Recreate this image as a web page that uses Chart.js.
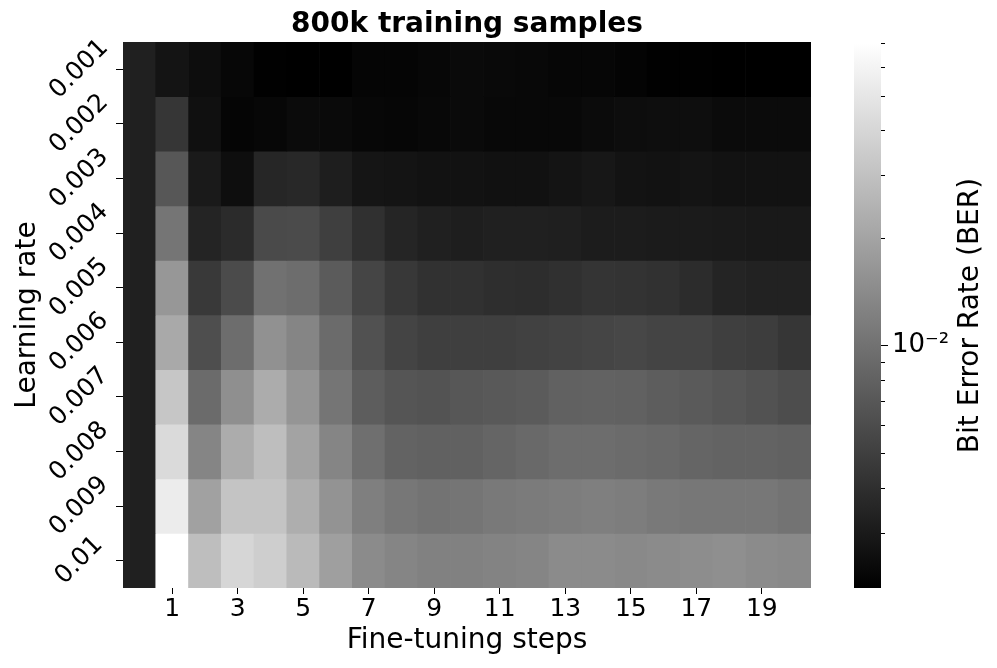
<!DOCTYPE html>
<html>
<head>
<meta charset="utf-8">
<script src="https://cdn.jsdelivr.net/npm/chart.js@4.4.1/dist/chart.umd.min.js"></script>
<style>
  html, body { margin: 0; padding: 0; background: #fff; }
  #wrap { position: relative; width: 997px; height: 668px; }
  #main { position: absolute; left: 0; top: 0; }
  #cbar { position: absolute; left: 840px; top: 0; }
</style>
</head>
<body>
<div id="wrap">
  <canvas id="main" width="997" height="668"></canvas>
  <canvas id="cbar" width="157" height="668"></canvas>
</div>
<script>
// ---- data (Bit Error Rate) ----
const steps = ['0','1','2','3','4','5','6','7','8','9','10','11','12','13','14','15','16','17','18','19','20'];
const learningRates = ['0.001','0.002','0.003','0.004','0.005','0.006','0.007','0.008','0.009','0.01'];

const ber_lr_0001 = [0.00325, 0.00276, 0.00251, 0.00231, 0.00213, 0.00210, 0.00210, 0.00225, 0.00225, 0.00231, 0.00241, 0.00237, 0.00234, 0.00228, 0.00228, 0.00222, 0.00213, 0.00213, 0.00210, 0.00210, 0.00211];
const ber_lr_0002 = [0.00325, 0.00439, 0.00261, 0.00225, 0.00231, 0.00244, 0.00241, 0.00231, 0.00228, 0.00234, 0.00241, 0.00234, 0.00234, 0.00234, 0.00244, 0.00251, 0.00254, 0.00254, 0.00244, 0.00244, 0.00244];
const ber_lr_0003 = [0.00325, 0.00697, 0.00299, 0.00254, 0.00353, 0.00362, 0.00316, 0.00280, 0.00276, 0.00269, 0.00269, 0.00265, 0.00265, 0.00276, 0.00287, 0.00272, 0.00269, 0.00276, 0.00269, 0.00269, 0.00269];
const ber_lr_0004 = [0.00325, 0.01050, 0.00343, 0.00378, 0.00584, 0.00592, 0.00503, 0.00404, 0.00348, 0.00325, 0.00316, 0.00325, 0.00325, 0.00321, 0.00308, 0.00308, 0.00304, 0.00304, 0.00299, 0.00295, 0.00295];
const ber_lr_0005 = [0.00325, 0.01670, 0.00463, 0.00592, 0.00995, 0.00942, 0.00737, 0.00546, 0.00451, 0.00415, 0.00415, 0.00393, 0.00388, 0.00404, 0.00427, 0.00421, 0.00410, 0.00383, 0.00343, 0.00334, 0.00334];
const ber_lr_0006 = [0.00325, 0.02135, 0.00617, 0.00942, 0.01539, 0.01307, 0.00917, 0.00643, 0.00538, 0.00503, 0.00503, 0.00503, 0.00517, 0.00531, 0.00546, 0.00561, 0.00538, 0.00538, 0.00503, 0.00483, 0.00439];
const ber_lr_0007 = [0.00325, 0.03215, 0.00917, 0.01498, 0.02255, 0.01626, 0.01050, 0.00757, 0.00679, 0.00660, 0.00697, 0.00717, 0.00737, 0.00800, 0.00811, 0.00800, 0.00757, 0.00727, 0.00688, 0.00652, 0.00609];
const ber_lr_0008 = [0.00325, 0.04225, 0.01307, 0.02255, 0.02884, 0.01967, 0.01307, 0.00968, 0.00822, 0.00800, 0.00800, 0.00844, 0.00892, 0.00942, 0.00942, 0.00917, 0.00892, 0.00844, 0.00822, 0.00822, 0.00800];
const ber_lr_0009 = [0.00325, 0.05402, 0.01915, 0.03130, 0.03130, 0.02318, 0.01582, 0.01204, 0.01079, 0.01022, 0.01050, 0.01109, 0.01140, 0.01172, 0.01204, 0.01172, 0.01109, 0.01079, 0.01079, 0.01079, 0.01022];
const ber_lr_0010 = [0.00325, 0.07020, 0.02884, 0.04001, 0.03587, 0.02731, 0.01863, 0.01418, 0.01307, 0.01237, 0.01237, 0.01271, 0.01307, 0.01418, 0.01418, 0.01380, 0.01418, 0.01458, 0.01498, 0.01418, 0.01380];

const berRows = [ber_lr_0001, ber_lr_0002, ber_lr_0003, ber_lr_0004, ber_lr_0005,
                 ber_lr_0006, ber_lr_0007, ber_lr_0008, ber_lr_0009, ber_lr_0010];

const colorbarTicks = [0.003, 0.004, 0.005, 0.006, 0.007, 0.008, 0.009, 0.01, 0.02, 0.03, 0.04, 0.05, 0.06, 0.07];
const colorbarMajor = 0.01;

// ---- log-normalised grey colormap ----
const allValues = berRows.flat();
const vMin = Math.min(...allValues);
const vMax = Math.max(...allValues);
function grayFor(v) {
  const t = (Math.log10(v) - Math.log10(vMin)) / (Math.log10(vMax) - Math.log10(vMin));
  const g = Math.round(255 * Math.min(1, Math.max(0, t)));
  return 'rgb(' + g + ',' + g + ',' + g + ')';
}

Chart.defaults.font.family = "'DejaVu Sans', sans-serif";
Chart.defaults.color = '#000';

// ---- heatmap ----
const datasets = berRows.map((row, r) => ({
  label: learningRates[r],
  data: row.map(() => [r, r + 1]),
  backgroundColor: row.map(v => grayFor(v)),
  borderWidth: 0,
  grouped: false,
  barPercentage: 1,
  categoryPercentage: 1
}));

new Chart(document.getElementById('main'), {
  type: 'bar',
  data: { labels: steps, datasets: datasets },
  options: {
    responsive: false,
    animation: false,
    devicePixelRatio: 1,
    layout: { padding: { left: 0, right: 186, top: 0, bottom: 0 } },
    plugins: {
      legend: { display: false },
      tooltip: { enabled: false },
      title: {
        display: true,
        fullSize: false,
        text: '800k training samples',
        color: '#000',
        font: { size: 28, weight: 'bold' },
        padding: { top: 8, bottom: 0.4 }
      }
    },
    scales: {
      x: {
        type: 'category',
        offset: true,
        afterBuildTicks: s => { s.ticks = s.ticks.filter(t => t.value % 2 === 1); },
        afterFit: s => { s.height = 80; },
        ticks: { autoSkip: false, maxRotation: 0, minRotation: 0, color: '#000', font: { size: 25 }, padding: 0 },
        grid: { display: true, offset: false, drawOnChartArea: false, drawTicks: true, tickLength: 6, tickColor: '#000', tickWidth: 1 },
        border: { display: false },
        title: { display: true, text: 'Fine-tuning steps', color: '#000', font: { size: 28 }, padding: { top: 0, bottom: 10 } }
      },
      y: {
        type: 'linear',
        min: 0,
        max: learningRates.length,
        reverse: true,
        afterBuildTicks: s => { s.ticks = learningRates.map((_, i) => ({ value: i + 0.5 })); },
        afterFit: s => { s.width = 123; },
        ticks: {
          autoSkip: false, minRotation: 45, maxRotation: 45, crossAlign: 'center', padding: 1,
          color: '#000', font: { size: 25 },
          callback: (v, i) => learningRates[i]
        },
        grid: { display: true, drawOnChartArea: false, drawTicks: true, tickLength: 7, tickColor: '#000', tickWidth: 1 },
        border: { display: false },
        title: { display: true, text: 'Learning rate', color: '#000', font: { size: 28 }, padding: { top: 11 } }
      }
    }
  }
});

// ---- colorbar ----
const cbLabelPlugin = {
  id: 'cbLabel',
  afterDraw(chart) {
    const ctx = chart.ctx;
    const area = chart.chartArea;
    const scale = chart.scales.y;
    ctx.save();
    // minor ticks
    ctx.strokeStyle = '#000';
    ctx.lineWidth = 1;
    colorbarTicks.forEach(v => {
      if (v === colorbarMajor) return;
      const y = Math.round(scale.getPixelForValue(v)) + 0.5;
      ctx.beginPath();
      ctx.moveTo(area.right, y);
      ctx.lineTo(area.right + 4, y);
      ctx.stroke();
    });
    // label
    ctx.translate(131, (area.top + area.bottom) / 2);
    ctx.rotate(-Math.PI / 2);
    ctx.font = "28px 'DejaVu Sans'";
    ctx.fillStyle = '#000';
    ctx.textAlign = 'center';
    ctx.textBaseline = 'middle';
    ctx.fillText('Bit Error Rate (BER)', 0, 0);
    ctx.restore();
  }
};

new Chart(document.getElementById('cbar'), {
  type: 'bar',
  data: {
    labels: [''],
    datasets: [{
      data: [[vMin, vMax]],
      borderWidth: 0,
      barPercentage: 1,
      categoryPercentage: 1,
      backgroundColor: (c) => {
        const area = c.chart.chartArea;
        if (!area) return '#808080';
        const g = c.chart.ctx.createLinearGradient(0, area.bottom, 0, area.top);
        g.addColorStop(0, '#000');
        g.addColorStop(1, '#fff');
        return g;
      }
    }]
  },
  options: {
    responsive: false,
    animation: false,
    devicePixelRatio: 1,
    layout: { padding: { left: 14, right: 0, top: 43, bottom: 80 } },
    plugins: { legend: { display: false }, tooltip: { enabled: false } },
    scales: {
      x: { type: 'category', display: false, offset: true },
      y: {
        type: 'logarithmic',
        position: 'right',
        min: vMin,
        max: vMax,
        afterBuildTicks: s => { s.ticks = colorbarTicks.map(v => ({ value: v, major: v === colorbarMajor })); },
        afterFit: s => { s.width = 116; },
        ticks: {
          autoSkip: false, padding: 4, color: '#000', font: { size: 26 },
          callback: (v) => v === colorbarMajor ? '10\u207B\u00B2' : ''
        },
        grid: {
          display: true, drawOnChartArea: false, drawTicks: true, tickLength: 7, tickWidth: 1,
          tickColor: (c) => (c.tick && c.tick.value === colorbarMajor) ? '#000' : 'rgba(0,0,0,0)'
        },
        border: { display: false }
      }
    }
  },
  plugins: [cbLabelPlugin]
});
</script>
</body>
</html>
